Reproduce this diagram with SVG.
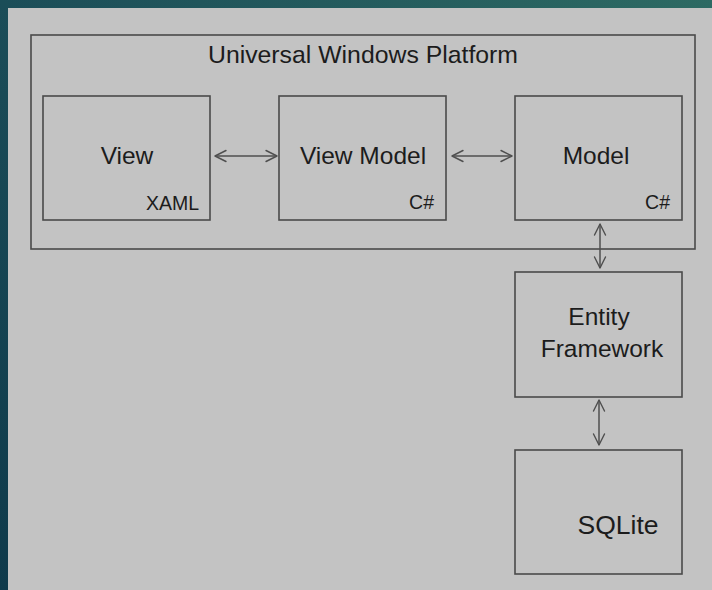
<svg xmlns="http://www.w3.org/2000/svg" width="712" height="590" viewBox="0 0 712 590">
  <defs>
    <linearGradient id="bg" x1="0" y1="1" x2="1" y2="0">
      <stop offset="0" stop-color="#0f3a4b"/>
      <stop offset="0.5" stop-color="#1b4d58"/>
      <stop offset="1" stop-color="#2d6a63"/>
    </linearGradient>
    <marker id="ah" viewBox="0 0 14 14" refX="12" refY="7" markerWidth="14" markerHeight="14" markerUnits="userSpaceOnUse" orient="auto-start-reverse">
      <path d="M1,1.5 L12,7 L1,12.5" fill="none" stroke="#4f4f4f" stroke-width="1.4" stroke-linecap="round" stroke-linejoin="round"/>
    </marker>
  </defs>
  <style>
    .box { fill: none; stroke: #4a4a4a; stroke-width: 1.6; }
    .lbl { font-family: "Liberation Sans", Arial, sans-serif; fill: #1c1c1c; font-size: 24.5px; text-anchor: middle; }
    .sub { font-family: "Liberation Sans", Arial, sans-serif; fill: #1c1c1c; font-size: 19.5px; text-anchor: end; }
    .conn { stroke: #4f4f4f; stroke-width: 1.5; fill: none; marker-start: url(#ah); marker-end: url(#ah); }
  </style>
  <rect x="0" y="0" width="712" height="590" fill="url(#bg)"/>
  <rect x="8" y="8" width="704" height="582" fill="#c3c3c3"/>

  <g id="uwp">
    <rect class="box" x="31" y="35" width="664" height="214"/>
    <text class="lbl" x="363" y="63" style="font-size:24.8px">Universal Windows Platform</text>
  </g>
  <g id="view">
    <rect class="box" x="43" y="96" width="167" height="124"/>
    <text class="lbl" x="127" y="164">View</text>
    <text class="sub" x="199" y="210">XAML</text>
  </g>
  <g id="viewmodel">
    <rect class="box" x="279" y="96" width="167" height="124"/>
    <text class="lbl" x="363" y="164">View Model</text>
    <text class="sub" x="434" y="209">C#</text>
  </g>
  <g id="model">
    <rect class="box" x="515" y="96" width="167" height="124"/>
    <text class="lbl" x="596" y="164">Model</text>
    <text class="sub" x="670" y="209">C#</text>
  </g>
  <g id="entity">
    <rect class="box" x="515" y="272" width="167" height="125"/>
    <text class="lbl" x="599" y="325">Entity</text>
    <text class="lbl" x="602" y="357">Framework</text>
  </g>
  <g id="sqlite">
    <rect class="box" x="515" y="450" width="167" height="124"/>
    <text class="lbl" x="618" y="534" style="font-size:26.5px">SQLite</text>
  </g>

  <g id="connectors">
    <line class="conn" x1="215" y1="156" x2="277" y2="156"/>
    <line class="conn" x1="452" y1="156" x2="512" y2="156"/>
    <line class="conn" x1="600" y1="224" x2="600" y2="268"/>
    <line class="conn" x1="599" y1="400" x2="599" y2="445"/>
  </g>
</svg>
